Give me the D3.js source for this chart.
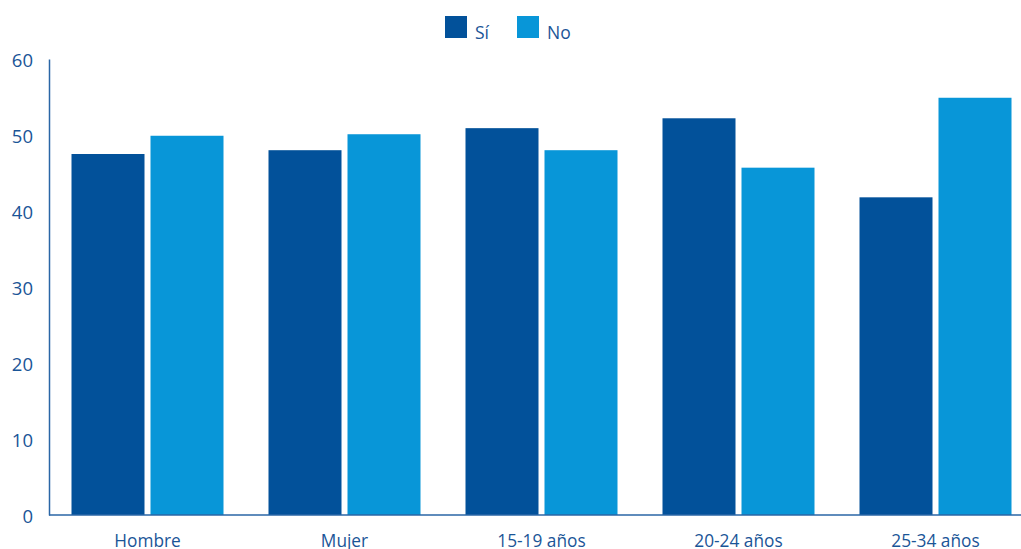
<!DOCTYPE html>
<html><head><meta charset="utf-8">
<script src="https://cdn.jsdelivr.net/npm/d3@7"></script>
<style>body{margin:0;background:#fff}svg{display:block}text{font-family:"Open Sans",sans-serif;fill:#1a5597}</style>
</head><body><svg id="c" width="1021" height="549"></svg>
<script>
const categories = ["Hombre","Mujer","15-19 años","20-24 años","25-34 años"];
const series = ["Sí","No"];
const valuesSi = [47.5, 48.0, 50.9, 52.2, 41.8];
const valuesNo = [49.9, 50.1, 48.0, 45.7, 54.9];
const yTicks = [0,10,20,30,40,50,60];
const colors = ["#02519a","#0896d8"];

const svg = d3.select("#c");
const y = d3.scaleLinear().domain([0,60]).range([515,59]);
const x0 = d3.scaleBand().domain(categories).range([49,1034]);
const x1 = d3.scaleBand().domain(series).range([22.5,174.5]).paddingInner(6/79);
const color = d3.scaleOrdinal().domain(series).range(colors);
const data = categories.map((c,i)=>({cat:c, vals:[{s:"Sí",v:valuesSi[i]},{s:"No",v:valuesNo[i]}]}));

const g = svg.append("g").selectAll("g").data(data).join("g")
  .attr("transform", d=>`translate(${x0(d.cat)},0)`);
g.selectAll("rect").data(d=>d.vals).join("rect")
  .attr("x", d=>x1(d.s)).attr("width", x1.bandwidth())
  .attr("y", d=>y(d.v)).attr("height", d=>y(0)-y(d.v))
  .attr("fill", d=>color(d.s));

// y axis
const ya = svg.append("g").attr("transform","translate(49,0)")
  .call(d3.axisLeft(y).tickValues(yTicks).tickSize(0).tickPadding(16));
ya.select(".domain").attr("stroke","#2a66a6").attr("stroke-width",1.5);
ya.selectAll("text").style("font-size","18.5px").style("font-weight","500").attr("dy","0.4em").attr("fill","#1a5597");

// x axis
const xa = svg.append("g").attr("transform","translate(0,515)")
  .call(d3.axisBottom(x0).tickSize(0).tickPadding(20));
xa.select(".domain").attr("stroke","#2a66a6").attr("stroke-width",1.5).attr("d","M49,0H1021");
xa.selectAll("text").style("font-size","17.3px").style("font-weight","500").attr("fill","#1a5597");

// legend
const lg = svg.append("g");
const lx = [445, 517];
series.forEach((s,i)=>{
  lg.append("rect").attr("x",lx[i]).attr("y",16).attr("width",22).attr("height",22).attr("fill",colors[i]);
  lg.append("text").attr("x",lx[i]+30).attr("y",39).style("font-size","17.5px").style("font-weight","500").text(s);
});
</script></body></html>
